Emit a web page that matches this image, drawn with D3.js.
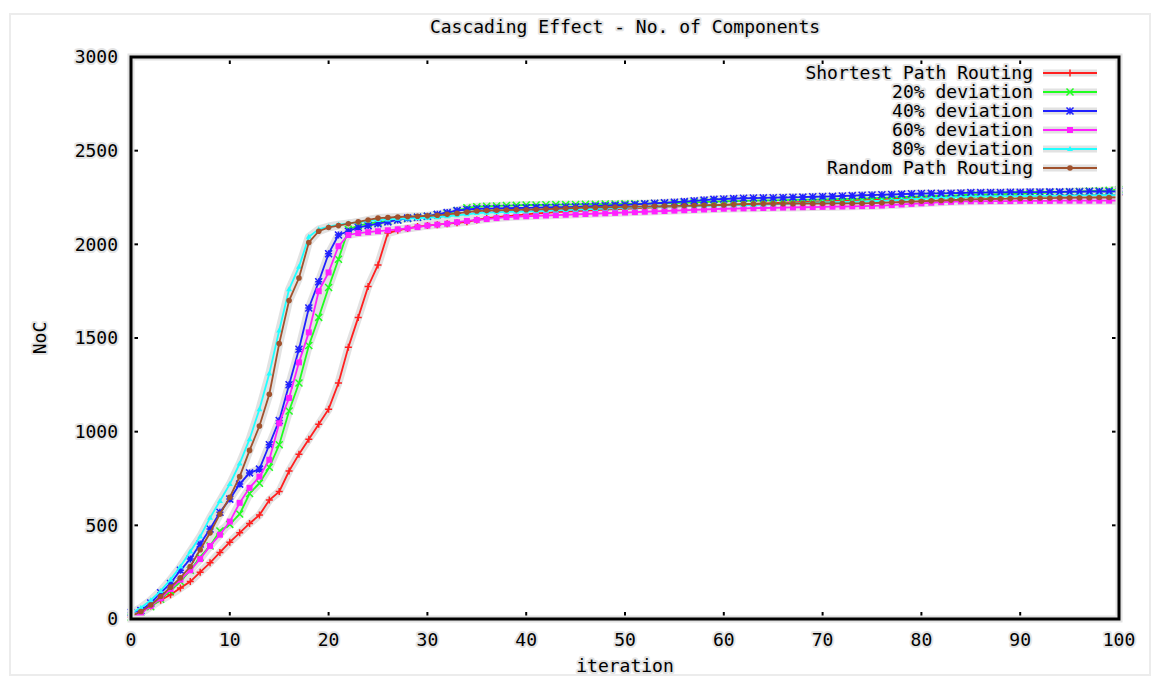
<!DOCTYPE html>
<html>
<head>
<meta charset="utf-8">
<script src="https://cdn.jsdelivr.net/npm/d3@7"></script>
<style>
  html, body { margin: 0; padding: 0; background: #fff; }
  text { font-family: "DejaVu Sans Mono", monospace; font-size: 18px; fill: #000; }
  .halo { paint-order: stroke; stroke: #e4e4e4; stroke-width: 4px; stroke-linejoin: round; }
</style>
</head>
<body>
<div id="chart"></div>
<script>
const iterations = d3.range(0, 101);
const xTicks = [0, 10, 20, 30, 40, 50, 60, 70, 80, 90, 100];
const yTicks = [0, 500, 1000, 1500, 2000, 2500, 3000];

const seriesNames = ["Shortest Path Routing", "20% deviation", "40% deviation", "60% deviation", "80% deviation", "Random Path Routing"];
const seriesColors = ["#ff2020", "#20ff20", "#2020ff", "#ff20ff", "#20ffff", "#a0522d"];
const seriesMarks = ["plus", "cross", "star", "square", "tri", "circle"];

const shortestPath = [
  10, 40, 70, 100, 130, 165, 200, 250, 300, 355,
  410, 460, 510, 555, 635, 680, 790, 880, 960, 1040,
  1120, 1260, 1450, 1610, 1775, 1890, 2060, 2075, 2085, 2095,
  2100, 2105, 2110, 2115, 2120, 2130, 2140, 2145, 2150, 2155,
  2160, 2165, 2168, 2172, 2175, 2178, 2180, 2183, 2185, 2188,
  2190, 2192, 2195, 2197, 2200, 2202, 2204, 2206, 2208, 2210,
  2210, 2212, 2214, 2216, 2218, 2220, 2222, 2224, 2226, 2228,
  2230, 2232, 2234, 2236, 2238, 2240, 2242, 2244, 2246, 2248,
  2250, 2251, 2252, 2253, 2254, 2255, 2256, 2256, 2257, 2257,
  2258, 2258, 2259, 2259, 2260, 2260, 2261, 2261, 2262, 2262,
  2262];
const dev20 = [
  10, 35, 65, 105, 150, 200, 260, 330, 390, 470,
  505, 560, 670, 725, 810, 930, 1110, 1260, 1460, 1610,
  1770, 1920, 2080, 2100, 2110, 2118, 2125, 2130, 2138, 2145,
  2150, 2158, 2165, 2180, 2195, 2201, 2203, 2205, 2207, 2208,
  2210, 2210, 2211, 2212, 2212, 2213, 2214, 2214, 2215, 2215,
  2216, 2216, 2217, 2218, 2219, 2220, 2222, 2224, 2226, 2228,
  2230, 2231, 2232, 2233, 2234, 2235, 2236, 2237, 2238, 2239,
  2240, 2241, 2242, 2243, 2244, 2246, 2248, 2250, 2252, 2254,
  2256, 2258, 2259, 2260, 2262, 2265, 2266, 2267, 2268, 2269,
  2270, 2272, 2274, 2276, 2278, 2280, 2282, 2284, 2286, 2288,
  2292];
const dev40 = [
  35, 45, 85, 140, 190, 260, 320, 400, 480, 570,
  640, 720, 780, 800, 930, 1060, 1250, 1440, 1660, 1800,
  1950, 2050, 2070, 2090, 2100, 2110, 2120, 2130, 2140, 2145,
  2150, 2160, 2170, 2180, 2186, 2190, 2191, 2192, 2193, 2194,
  2195, 2196, 2197, 2198, 2199, 2200, 2202, 2204, 2206, 2208,
  2210, 2213, 2216, 2219, 2222, 2225, 2228, 2232, 2236, 2240,
  2242, 2244, 2246, 2247, 2248, 2249, 2250, 2251, 2252, 2254,
  2255, 2256, 2258, 2260, 2262, 2263, 2265, 2266, 2268, 2270,
  2271, 2272, 2272, 2273, 2274, 2276, 2276, 2277, 2277, 2278,
  2278, 2279, 2279, 2280, 2280, 2281, 2281, 2282, 2282, 2282,
  2283];
const dev60 = [
  5, 30, 70, 110, 160, 210, 260, 320, 390, 450,
  520, 620, 700, 760, 850, 1045, 1180, 1370, 1530, 1750,
  1850, 1990, 2050, 2060, 2065, 2070, 2075, 2080, 2085, 2092,
  2100, 2105, 2110, 2118, 2125, 2130, 2135, 2140, 2145, 2148,
  2150, 2152, 2154, 2156, 2158, 2160, 2162, 2164, 2166, 2168,
  2170, 2172, 2174, 2176, 2178, 2180, 2182, 2184, 2186, 2188,
  2190, 2191, 2192, 2193, 2194, 2195, 2196, 2197, 2198, 2199,
  2200, 2201, 2202, 2203, 2204, 2205, 2207, 2210, 2213, 2216,
  2219, 2222, 2225, 2227, 2229, 2230, 2230, 2231, 2231, 2231,
  2232, 2232, 2232, 2232, 2233, 2233, 2233, 2233, 2233, 2233,
  2234];
const dev80 = [
  30, 60, 100, 150, 210, 280, 360, 440, 540, 630,
  720, 830, 960, 1120, 1310, 1540, 1760, 1880, 2040, 2080,
  2095, 2105, 2112, 2118, 2124, 2130, 2133, 2136, 2138, 2140,
  2142, 2145, 2150, 2155, 2160, 2167, 2169, 2171, 2173, 2174,
  2175, 2177, 2179, 2181, 2183, 2185, 2187, 2189, 2191, 2193,
  2195, 2197, 2199, 2200, 2202, 2203, 2204, 2205, 2206, 2207,
  2208, 2209, 2210, 2210, 2212, 2214, 2216, 2218, 2220, 2222,
  2224, 2225, 2226, 2227, 2228, 2230, 2232, 2235, 2238, 2241,
  2244, 2246, 2248, 2250, 2252, 2255, 2256, 2256, 2257, 2257,
  2258, 2258, 2259, 2259, 2260, 2260, 2261, 2261, 2262, 2262,
  2263];
const randomPath = [
  15, 40, 75, 120, 170, 220, 280, 370, 460, 560,
  650, 760, 900, 1030, 1200, 1470, 1700, 1820, 2010, 2070,
  2090, 2100, 2110, 2120, 2130, 2140, 2143, 2146, 2148, 2150,
  2152, 2155, 2160, 2165, 2172, 2178, 2180, 2182, 2183, 2184,
  2185, 2186, 2188, 2190, 2192, 2194, 2196, 2197, 2198, 2199,
  2200, 2201, 2202, 2203, 2204, 2205, 2206, 2207, 2208, 2209,
  2210, 2212, 2215, 2215, 2216, 2216, 2217, 2217, 2218, 2218,
  2218, 2219, 2219, 2219, 2219, 2220, 2222, 2224, 2226, 2228,
  2230, 2232, 2234, 2236, 2238, 2240, 2241, 2242, 2243, 2244,
  2245, 2246, 2247, 2247, 2248, 2248, 2249, 2249, 2250, 2250,
  2251];

const allSeries = [shortestPath, dev20, dev40, dev60, dev80, randomPath];

const W = 1160, H = 681;
const margin = { top: 57, right: 41, bottom: 62, left: 131 };
const width = W - margin.left - margin.right;
const height = H - margin.top - margin.bottom;

const svg = d3.select("#chart").append("svg")
    .attr("width", W)
    .attr("height", H);

// faint outer border like the scanned figure
svg.append("rect")
    .attr("x", 10).attr("y", 14)
    .attr("width", W - 20).attr("height", H - 20)
    .attr("fill", "none")
    .attr("stroke", "#ececec")
    .attr("stroke-width", 2);

const g = svg.append("g")
    .attr("transform", "translate(" + margin.left + "," + margin.top + ")");

const x = d3.scaleLinear().domain([0, 100]).range([0, width]);
const y = d3.scaleLinear().domain([0, 3000]).range([height, 0]);

// Title
svg.append("text")
    .attr("class", "halo")
    .attr("x", margin.left + width / 2)
    .attr("y", 33)
    .attr("text-anchor", "middle")
    .text("Cascading Effect - No. of Components");

// tick labels
g.selectAll(".ylab").data(yTicks).enter().append("text")
    .attr("class", "halo")
    .attr("x", -13)
    .attr("y", d => y(d))
    .attr("dy", "0.35em")
    .attr("text-anchor", "end")
    .text(d => d);

g.selectAll(".xlab").data(xTicks).enter().append("text")
    .attr("class", "halo")
    .attr("x", d => x(d))
    .attr("y", height + 27)
    .attr("text-anchor", "middle")
    .text(d => d);

// axis labels
svg.append("text")
    .attr("class", "halo")
    .attr("transform", "translate(46," + (margin.top + height / 2) + ") rotate(-90)")
    .attr("text-anchor", "middle")
    .text("NoC");

svg.append("text")
    .attr("class", "halo")
    .attr("x", margin.left + width / 2)
    .attr("y", H - 9)
    .attr("text-anchor", "middle")
    .text("iteration");

// ticks on all four sides, pointing inward
const tickLen = 7;
const axes = g.append("g").attr("stroke", "#000").attr("stroke-width", 2);
yTicks.forEach(v => {
    axes.append("line").attr("x1", 0).attr("x2", tickLen).attr("y1", y(v)).attr("y2", y(v));
    axes.append("line").attr("x1", width).attr("x2", width - tickLen).attr("y1", y(v)).attr("y2", y(v));
});
xTicks.forEach(v => {
    axes.append("line").attr("x1", x(v)).attr("x2", x(v)).attr("y1", height).attr("y2", height - tickLen);
    axes.append("line").attr("x1", x(v)).attr("x2", x(v)).attr("y1", 0).attr("y2", tickLen);
});

// marker shapes
function drawMark(sel, kind, color) {
    const s = 3.5;
    if (kind === "plus") {
        sel.append("path").attr("d", `M${-s},0H${s}M0,${-s}V${s}`).attr("stroke", color).attr("stroke-width", 1.5).attr("fill", "none");
    } else if (kind === "cross") {
        sel.append("path").attr("d", `M${-s},${-s}L${s},${s}M${-s},${s}L${s},${-s}`).attr("stroke", color).attr("stroke-width", 1.5).attr("fill", "none");
    } else if (kind === "star") {
        sel.append("path").attr("d", `M${-s},0H${s}M0,${-s}V${s}M${-s},${-s}L${s},${s}M${-s},${s}L${s},${-s}`).attr("stroke", color).attr("stroke-width", 1.5).attr("fill", "none");
    } else if (kind === "square") {
        sel.append("rect").attr("x", -3).attr("y", -3).attr("width", 6).attr("height", 6).attr("fill", color);
    } else if (kind === "tri") {
        sel.append("path").attr("d", "M-3,2L0,-3L3,2Z").attr("fill", color);
    } else {
        sel.append("circle").attr("r", 2.8).attr("fill", color);
    }
}

const line = d3.line()
    .x((d, i) => x(iterations[i]))
    .y(d => y(d));

const plot = g.append("g");

// gray halo underneath all curves
allSeries.forEach(vals => {
    plot.append("path")
        .datum(vals)
        .attr("d", line)
        .attr("fill", "none")
        .attr("stroke", "#e2e2e2")
        .attr("stroke-width", 8)
        .attr("stroke-linejoin", "round");
});

allSeries.forEach((vals, k) => {
    const col = seriesColors[k];
    plot.append("path")
        .datum(vals)
        .attr("d", line)
        .attr("fill", "none")
        .attr("stroke", col)
        .attr("stroke-width", 1.8);
    vals.forEach((v, i) => {
        const m = plot.append("g").attr("transform", "translate(" + x(iterations[i]) + "," + y(v) + ")");
        drawMark(m, seriesMarks[k], col);
    });
});

// plot frame
g.append("rect")
    .attr("width", width).attr("height", height)
    .attr("fill", "none")
    .attr("stroke", "#e2e2e2")
    .attr("stroke-width", 7);
g.append("rect")
    .attr("width", width).attr("height", height)
    .attr("fill", "none")
    .attr("stroke", "#000")
    .attr("stroke-width", 3);

// legend
const legend = g.append("g").attr("transform", "translate(" + (width - 86) + ",16)");
seriesNames.forEach((name, k) => {
    const row = legend.append("g").attr("transform", "translate(0," + (k * 19) + ")");
    row.append("text")
        .attr("class", "halo")
        .attr("x", 0)
        .attr("y", 0)
        .attr("dy", "0.35em")
        .attr("text-anchor", "end")
        .text(name);
    row.append("line")
        .attr("x1", 10).attr("x2", 64)
        .attr("stroke", "#e2e2e2").attr("stroke-width", 7);
    row.append("line")
        .attr("x1", 10).attr("x2", 64)
        .attr("stroke", seriesColors[k]).attr("stroke-width", 1.8);
    drawMark(row.append("g").attr("transform", "translate(37,0)"), seriesMarks[k], seriesColors[k]);
});
</script>
</body>
</html>
